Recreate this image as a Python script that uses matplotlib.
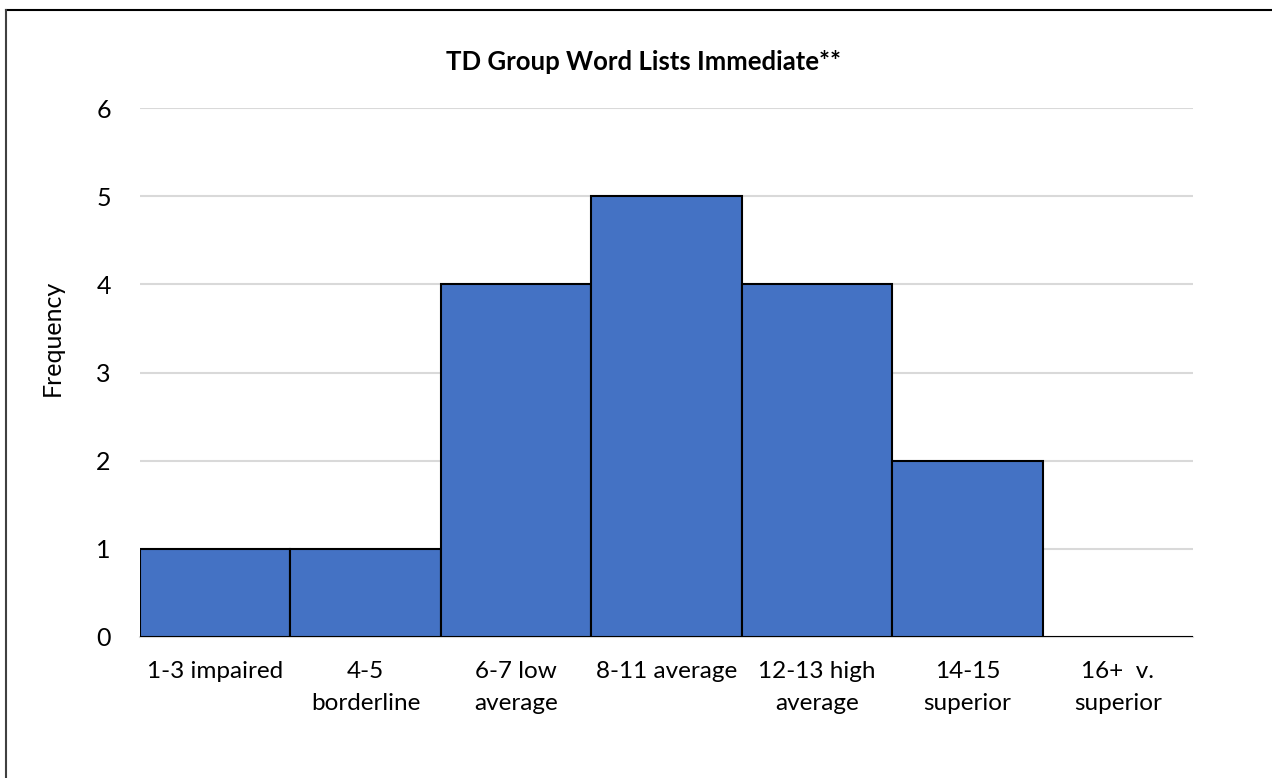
import matplotlib
matplotlib.use("Agg")
import matplotlib.pyplot as plt
from matplotlib.lines import Line2D

categories = ["1-3 impaired", "4-5\nborderline", "6-7 low\naverage", "8-11 average",
              "12-13 high\naverage", "14-15\nsuperior", "16+  v.\nsuperior"]
frequency = [1, 1, 4, 5, 4, 2, 0]
yticks = [0, 1, 2, 3, 4, 5, 6]
title = "TD Group Word Lists Immediate**"

plt.rcParams['font.family'] = ['Lato', 'DejaVu Sans']

fig = plt.figure(figsize=(12.72, 7.78), dpi=100)
ax = fig.add_axes([140/1272, 1-637/778, (1193-140)/1272, (637-108)/778])

x = list(range(len(categories)))
ax.bar(x, frequency, width=1.0, color="#4472C4", edgecolor="black", linewidth=1.5, zorder=3)
ax.set_xlim(-0.5, len(categories)-0.5)
ax.set_ylim(0, 6)
ax.set_yticks(yticks)
ax.set_yticklabels([str(v) for v in yticks], fontsize=18)
ax.set_xticks(x)
ax.set_xticklabels(categories, fontsize=17.5, linespacing=1.65)
ax.tick_params(axis='y', length=0, pad=21)
ax.tick_params(axis='x', length=0, pad=17)
ax.yaxis.grid(True, color="#D9D9D9", linewidth=1.5, zorder=0)
for s in ["top", "right", "left"]:
    ax.spines[s].set_visible(False)
ax.spines["bottom"].set_color("#D9D9D9")
ax.spines["bottom"].set_linewidth(1.5)
ax.set_axisbelow(True)

ax.set_ylabel("Frequency", fontsize=18)
ax.yaxis.set_label_coords((64-140)/1053, (637-338)/529)
fig.text(643/1272, 1-62/778, title, ha="center", va="center", fontsize=18.5, fontweight="bold")

# figure border (top and left)
fig.add_artist(Line2D([5.5/1272, 1], [1-9.5/778, 1-9.5/778], transform=fig.transFigure, color="black", linewidth=1.5))
fig.add_artist(Line2D([5.5/1272, 5.5/1272], [0, 1-9.5/778], transform=fig.transFigure, color="#404040", linewidth=1.5))

fig.savefig("out.png", dpi=100)
